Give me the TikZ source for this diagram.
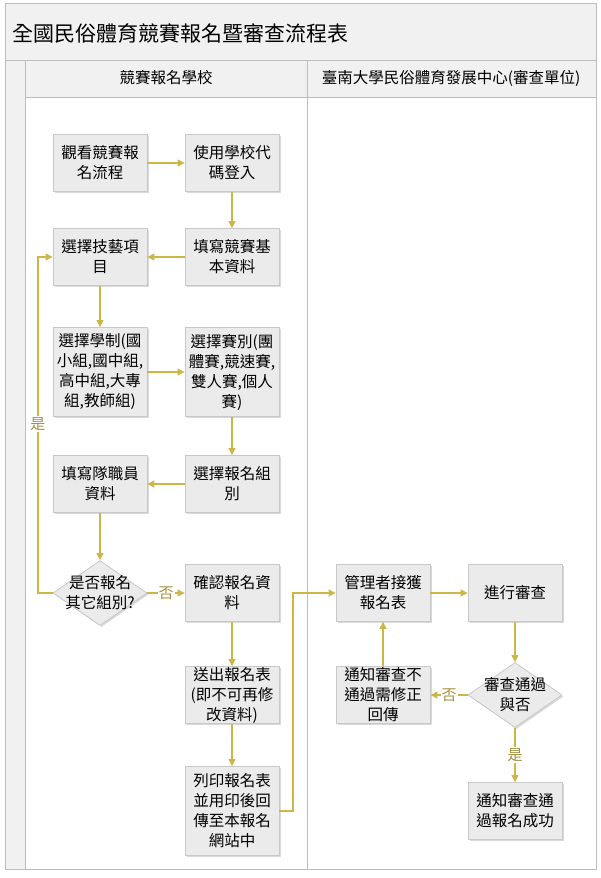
\documentclass[tikz,border=0pt]{standalone}
\usepackage{fontspec}
\setmainfont{Noto Sans CJK TC}
\usetikzlibrary{shapes.geometric, arrows.meta, shadows}
\definecolor{flowcolor}{RGB}{205,182,72}
\definecolor{choicecolor}{RGB}{165,145,65}
\definecolor{boxfill}{RGB}{235,235,235}
\definecolor{boxline}{RGB}{200,200,200}
\definecolor{lanefill}{RGB}{241,241,241}
\definecolor{laneline}{RGB}{188,188,188}
\newcommand{\flowfont}{\fontsize{15.5pt}{20pt}\selectfont}

\tikzset{
  box/.style={draw=boxline, fill=boxfill, line width=0.8pt, minimum width=94pt, minimum height=57pt,
    inner sep=0pt, align=center, font=\flowfont,
    drop shadow={shadow xshift=1.5pt, shadow yshift=-1.5pt, opacity=0.25, fill=black!60}},
  tallbox/.style={box, minimum height=89pt},
  decision/.style={diamond, draw=boxline, fill=boxfill, line width=0.8pt, minimum width=94pt,
    minimum height=65pt, inner sep=0pt,
    drop shadow={shadow xshift=1.5pt, shadow yshift=-1.5pt, opacity=0.25, fill=black!60}},
  dectext/.style={align=center, font=\flowfont, inner sep=0pt},
  flow/.style={draw=flowcolor, line width=1.2pt, -{Triangle[length=7pt,width=7pt]}},
  choice/.style={fill=white, text=choicecolor, font=\fontsize{15pt}{15pt}\selectfont, inner sep=1pt},
}

\begin{document}
\begin{tikzpicture}[x=1pt, y=-1pt]
  \useasboundingbox (0,0) rectangle (601,878);

  % swimlane frame
  \fill[lanefill] (5,3) rectangle (596,60);
  \fill[lanefill] (25,60) rectangle (596,97);
  \fill[lanefill] (5,60) rectangle (25,869);
  \draw[laneline, line width=1pt] (5,3) rectangle (596,869);
  \draw[laneline, line width=1pt] (5,60) -- (596,60);
  \draw[laneline, line width=1pt] (25,60) -- (25,869);
  \draw[laneline, line width=1pt] (25,97) -- (596,97);
  \draw[laneline, line width=1pt] (307,60) -- (307,869);

  \node[anchor=west, font=\fontsize{21pt}{21pt}\selectfont] (title) at (9,33) {全國民俗體育競賽報名暨審查流程表};
  \node[font=\flowfont] (school) at (166,78) {競賽報名學校};
  \node[font=\flowfont] (center) at (451,78) {臺南大學民俗體育發展中心(審查單位)};

  % school lane
  \node[box] (watch) at (100,163) {觀看競賽報\\名流程};
  \node[box] (login) at (232,163) {使用學校代\\碼登入};
  \node[box] (item) at (100,257) {選擇技藝項\\目};
  \node[box] (basic) at (232,257) {填寫競賽基\\本資料};
  \node[tallbox] (level) at (100,372) {選擇學制(國\\小組,國中組,\\高中組,大專\\組,教師組)};
  \node[tallbox] (kind) at (232,372) {選擇賽別(團\\體賽,競速賽,\\雙人賽,個人\\賽)};
  \node[box] (staff) at (100,484) {填寫隊職員\\資料};
  \node[box] (group) at (232,484) {選擇報名組\\別};
  \node[decision, label={[dectext]center:{是否報名\\其它組別?}}] (more) at (100,593) {};
  \node[box] (confirm) at (232,593) {確認報名資\\料};
  \node[box] (send) at (232,695) {送出報名表\\(即不可再修\\改資料)};
  \node[tallbox] (print) at (232,811) {列印報名表\\並用印後回\\傳至本報名\\網站中};

  % review lane
  \node[box] (receive) at (383,593) {管理者接獲\\報名表};
  \node[box] (review) at (515,593) {進行審查};
  \node[decision, label={[dectext]center:{審查通過\\與否}}] (pass) at (515,695) {};
  \node[box] (fail) at (383,695) {通知審查不\\通過需修正\\回傳};
  \node[box] (success) at (515,811) {通知審查通\\過報名成功};

  \coordinate (loop) at (38,424);
  \coordinate (bend) at (293,700);

  \draw[flow] (watch) -- (login);
  \draw[flow] (login) -- (basic);
  \draw[flow] (basic) -- (item);
  \draw[flow] (item) -- (level);
  \draw[flow] (level) -- (kind);
  \draw[flow] (kind) -- (group);
  \draw[flow] (group) -- (staff);
  \draw[flow] (staff) -- (more);
  \draw[flow] (more) -- node[choice] {否} (confirm);
  \draw[flow] (more.west) -| (loop) node[choice] {是} |- (item.west);
  \draw[flow] (confirm) -- (send);
  \draw[flow] (send) -- (print);
  \draw[flow] (print.east) -| (bend) |- (receive.west);
  \draw[flow] (receive) -- (review);
  \draw[flow] (review) -- (pass);
  \draw[flow] (pass) -- node[choice] {否} (fail);
  \draw[flow] (fail) -- (receive);
  \draw[flow] (pass) -- node[choice] {是} (success);
\end{tikzpicture}
\end{document}
